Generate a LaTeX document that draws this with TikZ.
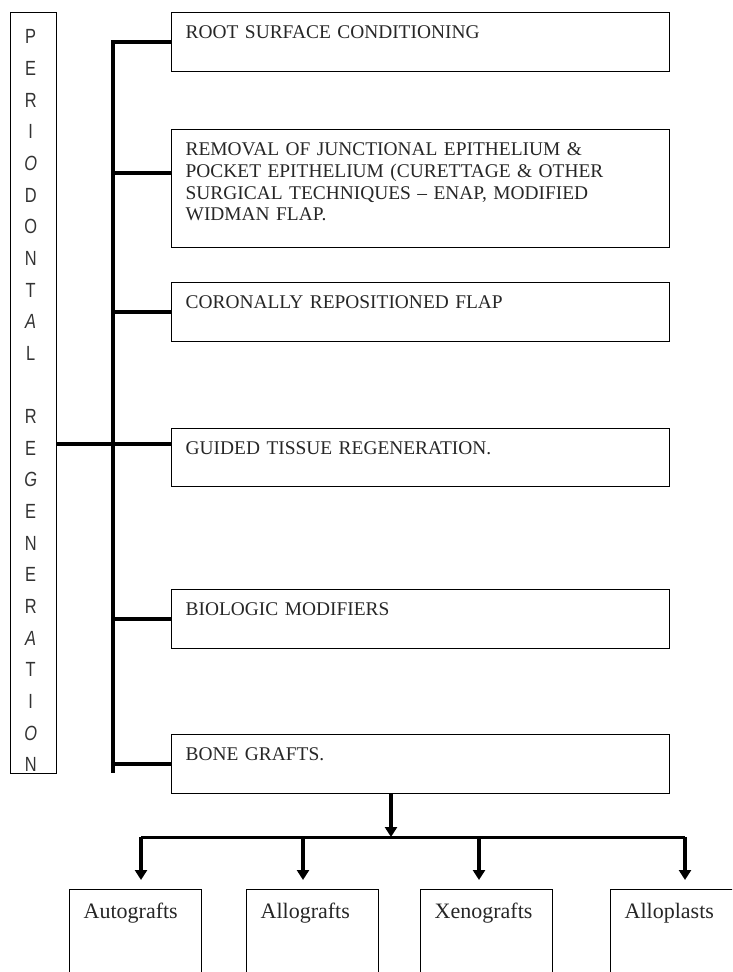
\documentclass[tikz,border=0pt]{standalone}
\usepackage{fontspec}
\setmainfont{Liberation Serif}
\newfontfamily\spinefont[FakeStretch=0.8]{Liberation Sans}
\usetikzlibrary{arrows.meta}

\begin{document}
\begin{tikzpicture}[x=1pt,y=-1pt]
	\tikzset{branchbox/.style={draw, line width=1.4pt, anchor=north west, inner xsep=14pt, inner ysep=13pt,
			text width=470pt, align=left, text height=13pt, text depth=#1,
			font=\fontsize{19.4}{21.7}\selectfont, text=black!85},
		branchbox/.default={20pt},
		graftbox/.style={draw, line width=1.4pt, anchor=north west, inner xsep=14pt, inner ysep=14pt,
			text width=104pt, align=left, text height=14.5pt, text depth=120pt,
			font=\fontsize{22}{25}\selectfont, text=black!85},
		spine/.style={align=center, inner xsep=0pt, inner ysep=17.5pt,
			font=\spinefont\fontsize{20.5}{31.65}\selectfont, text=black!80},
		bus/.style={line width=4pt},
		rail/.style={line width=3pt},
		drop/.style={line width=4.5pt, -{Triangle[width=12pt,length=10pt]}}}
	\useasboundingbox (0,0) rectangle (732,972);
	\clip (0,0) rectangle (732,972);
	
	%Senkrechter Titel
	\node[draw, line width=1.4pt, anchor=north west, minimum width=46pt, minimum height=761pt, inner sep=0pt] (perio) at (10,12) {};
	\begin{scope}
		\clip (perio.south west) rectangle (perio.north east);
		\node[spine, anchor=north] (perio-text) at ([xshift=-3pt]perio.north)
		{P\\E\\R\\I\\\textit{O}\\D\\O\\N\\T\\\textit{A}\\L\\[31.65pt]R\\E\\\textit{G}\\E\\N\\E\\R\\\textit{A}\\T\\I\\\textit{O}\\N};
	\end{scope}
	
	%Verfahren
	\node[branchbox] (root) at (171,12) {ROOT SURFACE CONDITIONING};
	\node[branchbox=79pt] (removal) at (171,129)
	{REMOVAL OF JUNCTIONAL EPITHELIUM \&\\POCKET EPITHELIUM (CURETTAGE \& OTHER\\SURGICAL TECHNIQUES – ENAP, MODIFIED\\WIDMAN FLAP.};
	\node[branchbox] (coronal) at (171,282) {CORONALLY REPOSITIONED FLAP};
	\node[branchbox=19pt] (guided) at (171,428) {GUIDED TISSUE REGENERATION.};
	\node[branchbox] (biologic) at (171,589) {BIOLOGIC MODIFIERS};
	\node[branchbox] (bone) at (171,734) {BONE GRAFTS.};
	
	%Sammelschiene
	\coordinate (bus end) at (113,773);
	\coordinate (removal-tap) at ([yshift=16pt]removal.west);
	\coordinate (guided-tap) at ([yshift=14pt]guided.west);
	\draw[bus] (root.west) -| (bus end);
	\draw[bus] (removal-tap) -- (bus end |- removal-tap);
	\foreach \b in {coronal,biologic,bone}
	\draw[bus] (\b.west) -- (bus end |- \b.west);
	\draw[bus] (perio.east |- guided-tap) -- (guided-tap);
	
	%Transplantate
	\node[graftbox] (auto) at (69,889) {Autografts};
	\node[graftbox] (allo) at (246,889) {Allografts};
	\node[graftbox] (xeno) at (420,889) {Xenografts};
	\node[graftbox] (alloplast) at (610,889) {Alloplasts};
	
	\coordinate (split) at (391,837);
	\draw[drop] (bone.south -| split) -- (split);
	\foreach \g/\x in {auto/141, allo/303, xeno/479, alloplast/685}{
		\coordinate (\g-in) at (\x,837);
		\draw[drop, shorten >=9pt] (\g-in) -- (\g-in |- \g.north);
	}
	\draw[rail] (auto-in) -- (alloplast-in);
	
\end{tikzpicture}
\end{document}
